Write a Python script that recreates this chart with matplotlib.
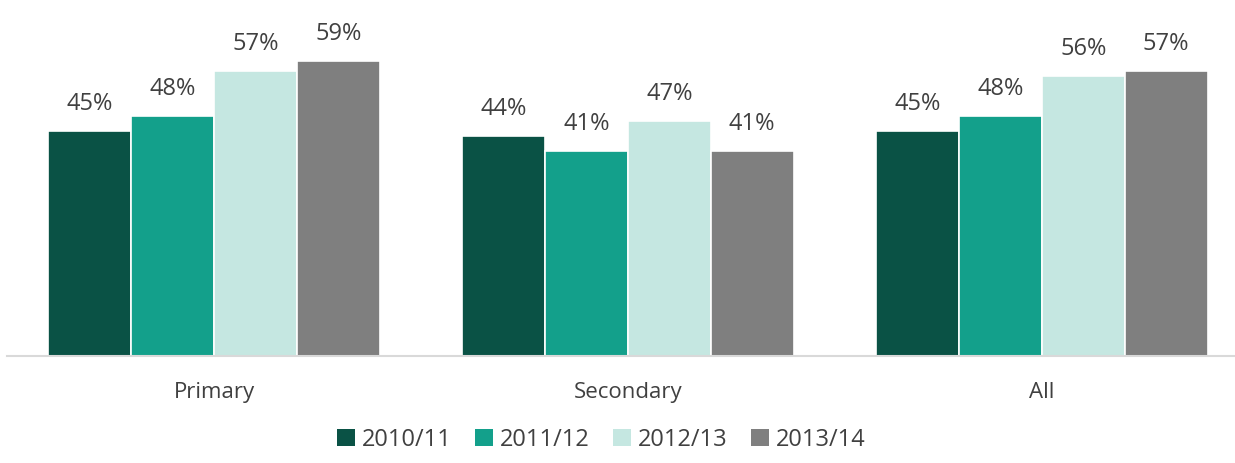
import matplotlib
matplotlib.use("Agg")
import matplotlib.pyplot as plt
import numpy as np
from matplotlib.patches import Patch

categories = ["Primary", "Secondary", "All"]
series_names = ["2010/11", "2011/12", "2012/13", "2013/14"]
v2010 = [45, 44, 45]
v2011 = [48, 41, 48]
v2012 = [57, 47, 56]
v2013 = [59, 41, 57]
values = [v2010, v2011, v2012, v2013]
colors = ["#0A5245", "#13A08B", "#C5E7E1", "#7F7F7F"]

plt.rcParams['font.family'] = ['Open Sans', 'DejaVu Sans']
txt = "#404040"

fig = plt.figure(figsize=(12.35, 4.63), dpi=100)
ax = fig.add_axes([7/1235, 1 - 356/463, (1235 - 7)/1235, (356 - 6)/463])

x = np.arange(len(categories))
w = 0.2
for i, (vals, c) in enumerate(zip(values, colors)):
    bars = ax.bar(x + (i - 1.5) * w, vals, width=w, color=c, edgecolor="white", linewidth=1.2)
    for b, v in zip(bars, vals):
        ax.annotate(f"{v}%", (b.get_x() + b.get_width() / 2, v), xytext=(0, 11),
                    textcoords="offset points", ha="center", va="bottom",
                    fontsize=17, color=txt)

ax.set_ylim(0, 70)
ax.set_xlim(-0.5, -0.5 + 1228 / 414)
ax.set_yticks([])
ax.set_xticks(x)
ax.set_xticklabels(categories, fontsize=16, color=txt)
ax.tick_params(axis="x", length=0, pad=19)
for s in ["top", "right", "left"]:
    ax.spines[s].set_visible(False)
ax.spines["bottom"].set_color("#D9D9D9")
ax.spines["bottom"].set_linewidth(1.5)

handles = [Patch(facecolor=c, edgecolor="none") for c in colors]
fig.legend(handles, series_names, loc="center", bbox_to_anchor=(0.487, 1 - 440/463),
           ncol=4, frameon=False, fontsize=17, labelcolor=txt,
           handlelength=0.75, handleheight=0.75, handletextpad=0.3, columnspacing=1.0)

fig.savefig("out.png", dpi=100)
